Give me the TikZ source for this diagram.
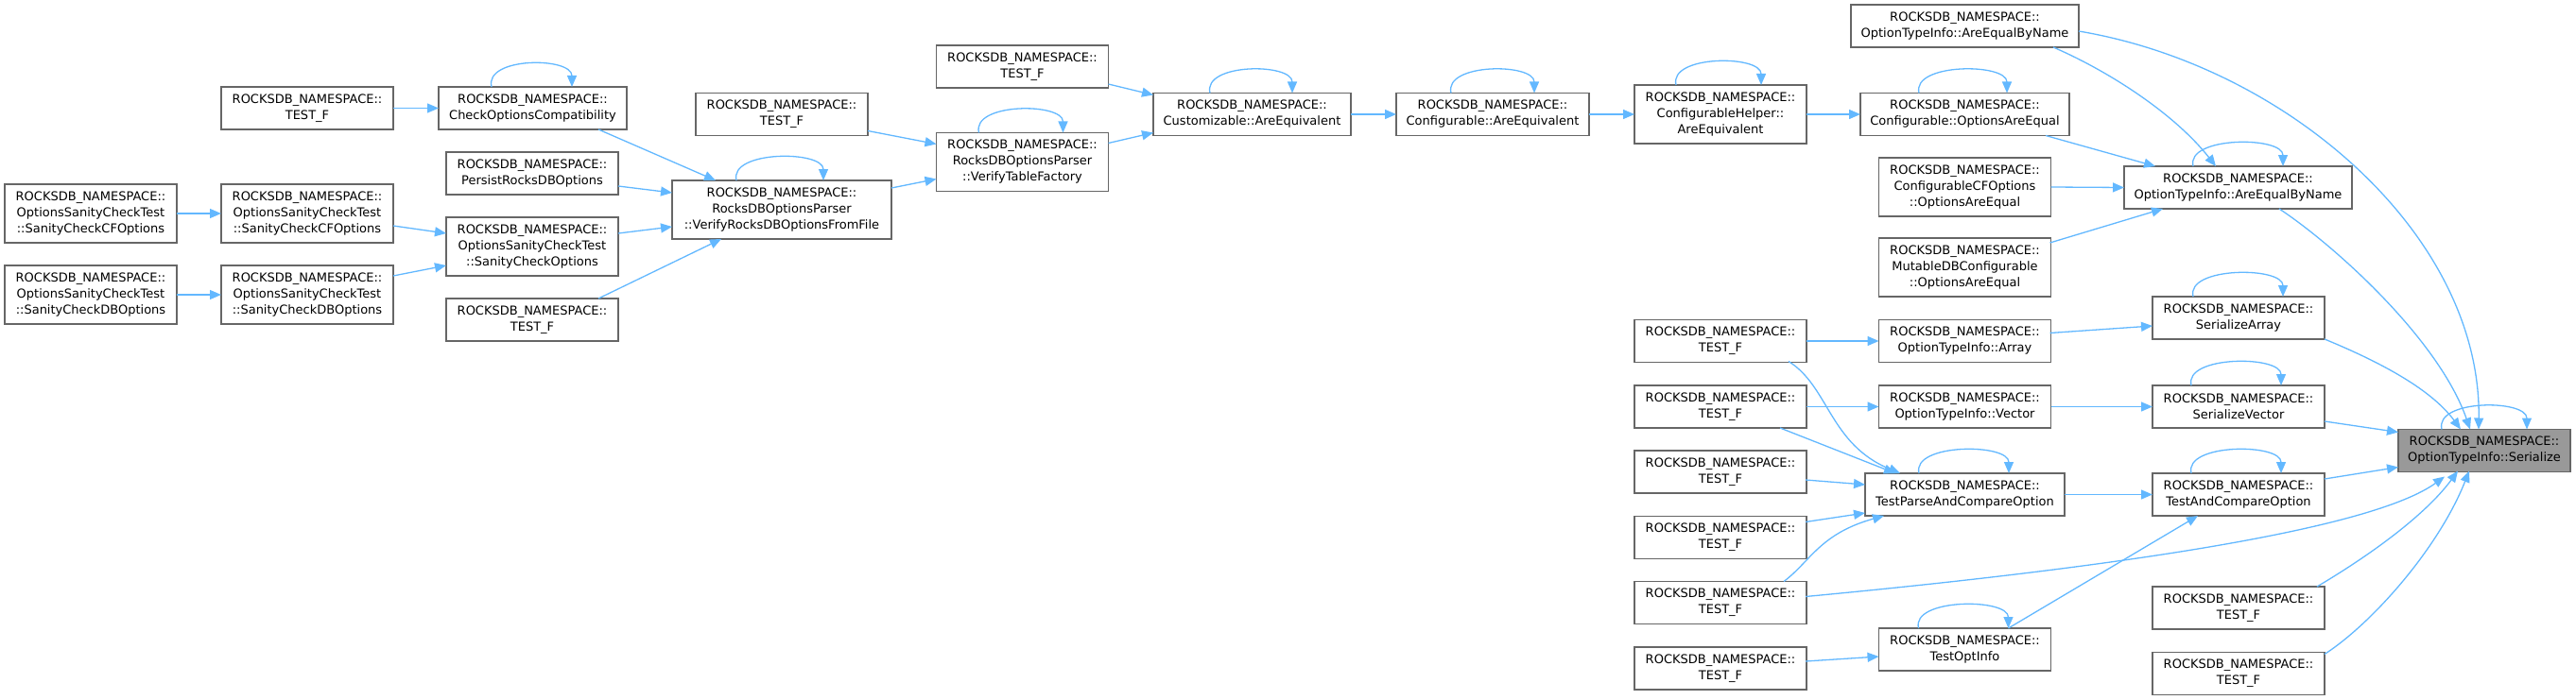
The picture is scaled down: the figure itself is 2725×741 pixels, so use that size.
\documentclass[tikz,border=0pt]{standalone}
\usepackage{fontspec}
\setmainfont{DejaVu Sans}
\usetikzlibrary{arrows.meta,calc}
\definecolor{edgeblue}{HTML}{63B8FF}
\definecolor{boxline}{HTML}{666666}
\definecolor{rootfill}{HTML}{999999}
\tikzset{
  box/.style={draw=boxline, line width=1.4pt, fill=white, rectangle, inner sep=0pt, outer sep=0pt,
    align=center, font=\fontsize{13}{17}\selectfont, minimum width=182pt, minimum height=45pt},
  tall/.style={minimum height=62pt},
  root/.style={fill=rootfill},
  edge/.style={draw=edgeblue, line width=1.3pt, -{Triangle[length=12pt,width=10pt]}}
}
\newcommand{\dxloop}[3]{\draw[edge] ($(#1.north west)+(#2,0)$) .. controls +(-8,-32) and +(0,-32) .. ($(#1.north west)+(#3,0)$);}
\newcommand{\RN}{ROCKSDB\_NAMESPACE::}
\begin{document}
\begin{tikzpicture}[x=1pt,y=-1pt]
\useasboundingbox (0,0) rectangle (2725,741);
% column A
\node[box,tall] (lcf) at (96,226) {\RN\\OptionsSanityCheckTest\\::SanityCheckCFOptions};
\node[box,tall] (ldb) at (96,312) {\RN\\OptionsSanityCheckTest\\::SanityCheckDBOptions};
% column B
\node[box] (tfa) at (325,114.5) {\RN\\TEST\_F};
\node[box,tall] (mcf) at (325,226) {\RN\\OptionsSanityCheckTest\\::SanityCheckCFOptions};
\node[box,tall] (mdb) at (325,312) {\RN\\OptionsSanityCheckTest\\::SanityCheckDBOptions};
% column C
\node[box,minimum width=199pt] (coc) at (563.5,114.5) {\RN\\CheckOptionsCompatibility};
\node[box] (prd) at (563,183.5) {\RN\\PersistRocksDBOptions};
\node[box,tall] (sco) at (563,261) {\RN\\OptionsSanityCheckTest\\::SanityCheckOptions};
\node[box] (tfb) at (563,338.5) {\RN\\TEST\_F};
% column D
\node[box] (tfc) at (827,121) {\RN\\TEST\_F};
\node[box,tall,minimum width=232pt] (vff) at (827,222) {\RN\\RocksDBOptionsParser\\::VerifyRocksDBOptionsFromFile};
% column E
\node[box] (tfd) at (1081.5,70.5) {\RN\\TEST\_F};
\node[box,tall] (vtf) at (1081.5,171.5) {\RN\\RocksDBOptionsParser\\::VerifyTableFactory};
% column F, G
\node[box,minimum width=209pt] (cae) at (1324.5,121) {\RN\\Customizable::AreEquivalent};
\node[box,minimum width=204pt] (cfae) at (1579,121) {\RN\\Configurable::AreEquivalent};
% column H
\node[box,tall] (chae) at (1820,121) {\RN\\ConfigurableHelper::\\AreEquivalent};
\node[box] (tf1) at (1820,361) {\RN\\TEST\_F};
\node[box] (tf2) at (1820,430.5) {\RN\\TEST\_F};
\node[box] (tf3) at (1820,499.5) {\RN\\TEST\_F};
\node[box] (tf4) at (1820,569) {\RN\\TEST\_F};
\node[box] (tf5) at (1820,638) {\RN\\TEST\_F};
\node[box] (tf6) at (1820,707.5) {\RN\\TEST\_F};
% column I
\node[box,minimum width=241pt] (aebn1) at (2078.5,27.5) {\RN\\OptionTypeInfo::AreEqualByName};
\node[box,minimum width=221pt] (coae) at (2078.5,121) {\RN\\Configurable::OptionsAreEqual};
\node[box,tall] (ccf) at (2078.5,198) {\RN\\ConfigurableCFOptions\\::OptionsAreEqual};
\node[box,tall] (mdbc) at (2078.5,283) {\RN\\MutableDBConfigurable\\::OptionsAreEqual};
\node[box] (arr) at (2078.5,361) {\RN\\OptionTypeInfo::Array};
\node[box] (vec) at (2078.5,430.5) {\RN\\OptionTypeInfo::Vector};
\node[box,minimum width=211pt] (tpc) at (2078.5,523.5) {\RN\\TestParseAndCompareOption};
\node[box] (toi) at (2078.5,687.5) {\RN\\TestOptInfo};
% column J
\node[box,minimum width=241pt] (aebn2) at (2367.5,198.5) {\RN\\OptionTypeInfo::AreEqualByName};
\node[box] (sa) at (2368,336.5) {\RN\\SerializeArray};
\node[box] (sv) at (2368,430.5) {\RN\\SerializeVector};
\node[box] (tac) at (2368,523.5) {\RN\\TestAndCompareOption};
\node[box] (tfr1) at (2368,643.5) {\RN\\TEST\_F};
\node[box] (tfr2) at (2368,713) {\RN\\TEST\_F};
% root
\node[box,root] (ser) at (2628,477) {\RN\\OptionTypeInfo::Serialize};

% edges
\draw[edge] (tfa.east) -- (coc.west);
\draw[edge] ($(coc.north west)+(169,45)$) -- ($(vff.north west)+(46,0)$);
\draw[edge] ($(prd.north west)+(182,36)$) -- ($(vff.north west)+(0,13)$);
\draw[edge] (lcf.east) -- (mcf.west);
\draw[edge] (ldb.east) -- (mdb.west);
\draw[edge] ($(mcf.north west)+(182,44)$) -- ($(sco.north west)+(0,17)$);
\draw[edge] ($(mdb.north west)+(182,11)$) -- ($(sco.north west)+(0,51)$);
\draw[edge] ($(sco.north west)+(182,17)$) -- ($(vff.north west)+(0,49)$);
\draw[edge] ($(tfb.north west)+(161,0)$) -- ($(vff.north west)+(52,62)$);
\draw[edge] ($(vff.north west)+(232,8)$) -- ($(vtf.north west)+(0,49)$);
\draw[edge] ($(tfc.north west)+(182,40)$) -- ($(vtf.north west)+(0,12)$);
\draw[edge] ($(vtf.north west)+(182,11)$) -- ($(cae.north west)+(0,42)$);
\draw[edge] ($(tfd.north west)+(182,41)$) -- ($(cae.north west)+(0,2)$);
\draw[edge] (cae.east) -- (cfae.west);
\draw[edge] (cfae.east) -- (chae.west);
\draw[edge] (chae.east) -- (coae.west);
\draw[edge] ($(coae.north west)+(196,45)$) -- ($(aebn2.north west)+(33,0)$);
\draw[edge] (ccf.east) -- (aebn2.west);
\draw[edge] ($(mdbc.north west)+(181,5)$) -- ($(aebn2.north west)+(41,45)$);
\draw[edge] ($(aebn1.north west)+(214,45)$) .. controls +(58,25) and +(-44,-56) .. ($(aebn2.north west)+(97,0)$);
\draw[edge] ($(aebn1.north west)+(241,28)$) .. controls +(221,37) and +(3,-205) .. ($(ser.north west)+(85,0)$);
\draw[edge] ($(aebn2.north west)+(164,45)$) .. controls +(59,39) and +(-33,-95) .. ($(ser.north west)+(76,0)$);
\draw[edge] ($(sa.north west)+(182,45)$) .. controls +(51,21) and +(-33,-45) .. ($(ser.north west)+(66,0)$);
\draw[edge] ($(arr.north west)+(181,14)$) -- ($(sa.north west)+(0,31)$);
\draw[edge] (tf1.east) -- (arr.west);
\draw[edge] (tf2.east) -- (vec.west);
\draw[edge] (vec.east) -- (sv.west);
\draw[edge] ($(sv.north west)+(182,38)$) -- ($(ser.north west)+(0,3)$);
\draw[edge] ($(tf1.north west)+(163,44)$) .. controls +(43,27) and +(-75,-31) .. ($(tpc.north west)+(37,0)$);
\draw[edge] ($(tf2.north west)+(154,45)$) -- ($(tpc.north west)+(32,0)$);
\draw[edge] ($(tf3.north west)+(181,31)$) -- ($(tpc.north west)+(0,12)$);
\draw[edge] ($(tf4.north west)+(181,6)$) -- ($(tpc.north west)+(0,42)$);
\draw[edge] ($(tf5.north west)+(158,0)$) .. controls +(28,-21) and +(-68,19) .. ($(tpc.north west)+(20,45)$);
\draw[edge] ($(tf5.north west)+(181,16)$) .. controls +(340,-32) and +(-76,55) .. ($(ser.north west)+(49,50)$);
\draw[edge] (tpc.east) -- (tac.west);
\draw[edge] ($(tac.north west)+(182,6)$) -- ($(ser.north west)+(0,40)$);
\draw[edge] ($(toi.north west)+(137,0)$) -- ($(tac.north west)+(48,45)$);
\draw[edge] ($(tf6.north west)+(181,15)$) -- ($(toi.north west)+(0,30)$);
\draw[edge] ($(tfr1.north west)+(174,0)$) .. controls +(69,-41) and +(-30,41) .. ($(ser.north west)+(63,44)$);
\draw[edge] ($(tfr2.north west)+(182,2)$) .. controls +(51,-33) and +(-32,81) .. ($(ser.north west)+(75,44)$);
% self loops
\dxloop{coc}{56}{141}
\dxloop{vff}{68}{160}
\dxloop{vtf}{45}{134}
\dxloop{cae}{60}{147}
\dxloop{cfae}{58}{146}
\dxloop{chae}{44}{134}
\dxloop{coae}{62}{155}
\dxloop{aebn2}{73}{168}
\dxloop{sa}{43}{138}
\dxloop{sv}{41}{136}
\dxloop{tac}{41}{136}
\dxloop{tpc}{57}{152}
\dxloop{toi}{42}{137}
\dxloop{ser}{46}{136}
\end{tikzpicture}
\end{document}
